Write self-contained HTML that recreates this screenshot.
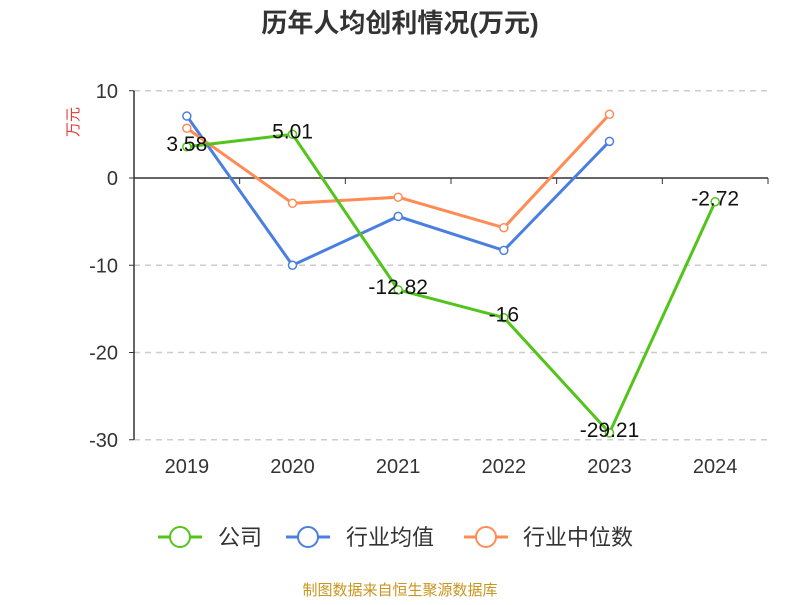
<!DOCTYPE html>
<html><head><meta charset="utf-8"><style>
body{margin:0;background:#fff;font-family:"Liberation Sans","Noto Sans CJK SC",sans-serif;}
svg text{font-family:"Liberation Sans","Noto Sans CJK SC",sans-serif;}
</style></head><body>
<svg id="chart" width="800" height="600" xmlns="http://www.w3.org/2000/svg">
<text x="400" y="32" text-anchor="middle" font-size="26" font-weight="bold" fill="#333">历年人均创利情况(万元)</text>
<text transform="translate(78,122) rotate(-90)" text-anchor="middle" font-size="15" fill="#e53935">万元</text>
<g id="grid"></g><g id="axes"></g><g id="series"></g>
<g>
<g><line x1="158" y1="537" x2="202" y2="537" stroke="#52c41a" stroke-width="3"/><circle cx="180" cy="537" r="10" fill="#fff" stroke="#52c41a" stroke-width="2"/><text x="218" y="545" font-size="22" fill="#333">公司</text></g>
<g><line x1="286" y1="537" x2="330" y2="537" stroke="#4a7fe0" stroke-width="3"/><circle cx="308" cy="537" r="10" fill="#fff" stroke="#4a7fe0" stroke-width="2"/><text x="346" y="545" font-size="22" fill="#333">行业均值</text></g>
<g><line x1="464" y1="537" x2="508" y2="537" stroke="#ff8c55" stroke-width="3"/><circle cx="486" cy="537" r="10" fill="#fff" stroke="#ff8c55" stroke-width="2"/><text x="523" y="545" font-size="22" fill="#333">行业中位数</text></g>
</g>
<text x="400" y="595" text-anchor="middle" font-size="15" fill="#c8961e">制图数据来自恒生聚源数据库</text>
</svg>
<script>
const categories=["2019","2020","2021","2022","2023","2024"];
const companyValues=[3.58,5.01,-12.82,-16,-29.21,-2.72];
const companyLabels=["3.58","5.01","-12.82","-16","-29.21","-2.72"];
const meanValues=[7.1,-10.0,-4.4,-8.3,4.2,null];
const medianValues=[5.7,-2.9,-2.2,-5.7,7.3,null];
const yTicks=[10,0,-10,-20,-30];
const NS="http://www.w3.org/2000/svg";
const x0=134,x1=768,bw=(x1-x0)/categories.length;
const xs=i=>x0+bw*(i+0.5);
const ys=v=>178-v*8.725;
function mk(t,a,p){const e=document.createElementNS(NS,t);for(const k in a)e.setAttribute(k,a[k]);p.appendChild(e);return e;}
const grid=document.getElementById('grid'),axes=document.getElementById('axes'),ser=document.getElementById('series');
yTicks.forEach(v=>{
 if(v!==0){const l=mk('line',{x1:x0,x2:x1,y1:ys(v),y2:ys(v),stroke:'#ccc','stroke-dasharray':'6,5','stroke-width':1.5},grid);
 
 }
 const t=mk('text',{x:118,y:ys(v)+7,'text-anchor':'end','font-size':20,fill:'#333'},axes);t.textContent=v;
 
 
 mk('line',{x1:x0-5,x2:x0,y1:ys(v),y2:ys(v),stroke:'#333'},axes);
});
const ya=mk('line',{x1:x0,x2:x0,y1:ys(10),y2:ys(-30),stroke:'#333','stroke-width':1.5},axes);


const xa=mk('line',{x1:x0,x2:x1,y1:ys(0),y2:ys(0),stroke:'#333','stroke-width':1.5},axes);


for(let i=0;i<=categories.length;i++)mk('line',{x1:x0+bw*i,x2:x0+bw*i,y1:ys(0),y2:ys(0)+6,stroke:'#333'},axes);
categories.forEach((c,i)=>{const t=mk('text',{x:xs(i),y:473,'text-anchor':'middle','font-size':20,fill:'#333'},axes);t.textContent=c;
 
 });
function series(vals,color,name){
 const pts=vals.map((v,i)=>v==null?null:[xs(i),ys(v)]).filter(p=>p);
 const pl=mk('polyline',{points:pts.map(p=>p.join(',')).join(' '),fill:'none',stroke:color,'stroke-width':3},ser);
 
 
 pts.forEach(p=>{const c=mk('circle',{cx:p[0],cy:p[1],r:4,fill:'#fff',stroke:color,'stroke-width':1.5},ser);
 
 });
}
series(meanValues,'#4a7fe0','industry-mean');
series(medianValues,'#ff8c55','industry-median');
series(companyValues,'#52c41a','company');
companyValues.forEach((v,i)=>{const t=mk('text',{x:xs(i),y:ys(v)+4,'text-anchor':'middle','font-size':21,fill:'#111'},ser);t.textContent=companyLabels[i];
 
 });
</script>
</body></html>
